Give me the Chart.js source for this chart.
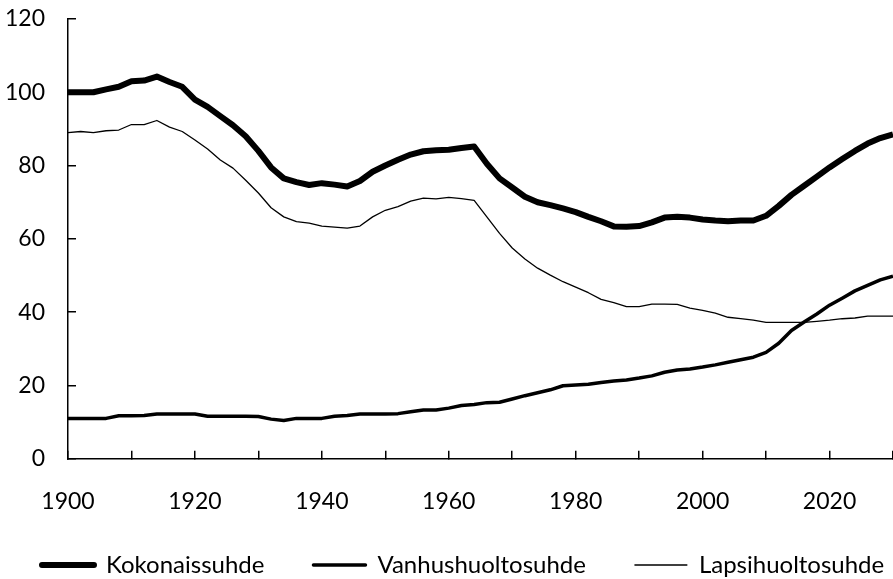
<!DOCTYPE html>
<html>
<head>
<meta charset="utf-8">
<script src="https://cdn.jsdelivr.net/npm/chart.js@4/dist/chart.umd.min.js"></script>
<style>
  html, body { margin: 0; padding: 0; background: #fff; }
  #wrap { width: 893px; height: 579px; }
</style>
</head>
<body>
<div id="wrap"><canvas id="c" width="893" height="579"></canvas></div>
<script>
const years = [1900,1902,1904,1906,1908,1910,1912,1914,1916,1918,1920,1922,1924,1926,1928,1930,1932,1934,1936,1938,1940,1942,1944,1946,1948,1950,1952,1954,1956,1958,1960,1962,1964,1966,1968,1970,1972,1974,1976,1978,1980,1982,1984,1986,1988,1990,1992,1994,1996,1998,2000,2002,2004,2006,2008,2010,2012,2014,2016,2018,2020,2022,2024,2026,2028,2030];

const kokonaissuhde = [100,100,100,100.8,101.5,103,103.2,104.3,102.8,101.5,98,96,93.5,91,88,84,79.5,76.5,75.5,74.7,75.2,74.8,74.3,75.8,78.3,80,81.6,83,83.9,84.2,84.3,84.8,85.2,80.5,76.5,74,71.5,70,69.2,68.3,67.3,66,64.8,63.4,63.3,63.5,64.5,65.8,66,65.8,65.3,65,64.8,65,65,66.3,69,72,74.5,77,79.5,81.8,84,86,87.5,88.5];

const vanhushuoltosuhde = [11,11,11,11,11.7,11.7,11.8,12.2,12.2,12.2,12.2,11.6,11.6,11.6,11.6,11.5,10.8,10.4,11,11,11,11.6,11.8,12.2,12.2,12.2,12.3,12.8,13.3,13.3,13.8,14.5,14.8,15.3,15.4,16.3,17.2,18,18.8,19.9,20.1,20.3,20.8,21.2,21.5,22,22.6,23.6,24.2,24.5,25,25.6,26.3,27,27.7,29,31.5,35,37.3,39.5,41.9,43.8,45.8,47.3,48.8,49.8];

const lapsihuoltosuhde = [89,89.3,89,89.5,89.7,91.2,91.2,92.3,90.5,89.3,87,84.5,81.5,79.3,76,72.5,68.5,66,64.7,64.3,63.5,63.2,62.9,63.5,66,67.8,68.8,70.3,71.1,70.9,71.3,71,70.5,66,61.5,57.5,54.5,52,50.1,48.3,46.8,45.3,43.5,42.6,41.5,41.5,42.2,42.2,42.1,41.1,40.5,39.7,38.6,38.2,37.8,37.2,37.2,37.2,37.2,37.5,37.8,38.2,38.4,38.9,38.9,38.9];

const seriesNames = ['Kokonaissuhde','Vanhushuoltosuhde','Lapsihuoltosuhde'];
const yTicks = [0,20,40,60,80,100,120];
const xLabelYears = [1900,1920,1940,1960,1980,2000,2020];

function pts(vals){ return years.map((y,i)=>({x:y,y:vals[i]})); }

const FONT = 'Lato';
Chart.defaults.font.family = FONT;
Chart.defaults.color = '#000';

const LEGEND_PAD = 49;
const LEGEND_H = 40;
const LEGEND_START = 42;
const LEGEND_TOP = 504;

const legendFix = {
  id: 'legendFix',
  beforeLayout(chart) {
    const lg = chart.legend;
    if (!lg || lg._patched) return;
    const origFit = lg.fit;
    lg.fit = function() {
      const mw = this.maxWidth;
      this.maxWidth = 5000;
      origFit.call(this);
      this.maxWidth = mw;
      this.width = mw;
      this.height = LEGEND_H;
    };
    const origDraw = lg.draw;
    lg.draw = function() {
      const l = this.left, r = this.right, t = this.top, b = this.bottom;
      this.left = LEGEND_START - LEGEND_PAD;
      this.right = 5000;
      this.top = LEGEND_TOP;
      this.bottom = 579;
      origDraw.call(this);
      this.left = l; this.right = r; this.top = t; this.bottom = b;
    };
    lg._patched = true;
  }
};

new Chart(document.getElementById('c'), {
  type: 'line',
  data: {
    datasets: [
      { label: seriesNames[0], data: pts(kokonaissuhde), borderColor:'#000', backgroundColor:'#000', borderWidth:6, pointRadius:0, tension:0, borderJoinStyle:'round' },
      { label: seriesNames[1], data: pts(vanhushuoltosuhde), borderColor:'#000', backgroundColor:'#000', borderWidth:3.5, pointRadius:0, tension:0, borderJoinStyle:'round' },
      { label: seriesNames[2], data: pts(lapsihuoltosuhde), borderColor:'#000', backgroundColor:'#000', borderWidth:1.3, pointRadius:0, tension:0, borderJoinStyle:'round' }
    ]
  },
  plugins: [legendFix],
  options: {
    responsive: false,
    animation: false,
    events: [],
    clip: false,
    layout: { padding: { top: 19, right: 0, left: 0, bottom: 0 } },
    plugins: {
      tooltip: { enabled: false },
      legend: {
        position: 'bottom',
        align: 'start',
        labels: {
          boxWidth: 52,
          boxHeight: 0,
          padding: LEGEND_PAD,
          font: { size: 24, family: FONT },
          color: '#000'
        }
      }
    },
    scales: {
      x: {
        type: 'linear',
        min: 1900, max: 2030,
        afterBuildTicks: (s) => { const t=[]; for (let v=1900; v<=2030; v+=10) t.push({value:v}); s.ticks = t; },
        ticks: {
          autoSkip: false, maxRotation: 0, padding: 37,
          font: { size: 23, family: FONT },
          callback: (v) => xLabelYears.includes(v) ? String(v) : ''
        },
        grid: { drawOnChartArea: false, drawTicks: true, tickLength: -8, color: '#000', lineWidth: 1.5 },
        border: { color: '#000', width: 1.5 },
        afterFit: (s) => { s.height = 579 - 458.7 - LEGEND_H; s.paddingLeft = 0; s.paddingRight = 0; }
      },
      y: {
        min: 0, max: 120,
        afterBuildTicks: (s) => { s.ticks = yTicks.map(v=>({value:v})); },
        ticks: { padding: 31, font: { size: 23, family: FONT } },
        grid: { drawOnChartArea: false, drawTicks: true, tickLength: -8, color: '#000', lineWidth: 1.5 },
        border: { color: '#000', width: 1.5 },
        afterFit: (s) => { s.width = 68; s.paddingTop = 0; s.paddingBottom = 0; }
      }
    }
  }
});
</script>
</body>
</html>
